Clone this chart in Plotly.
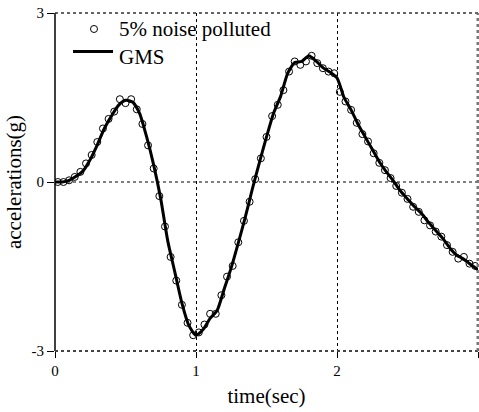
import plotly.graph_objects as go

# noisy data (5% noise polluted)
noise_t = [0.02, 0.06, 0.10, 0.14, 0.18, 0.22, 0.26, 0.30, 0.34, 0.38, 0.42, 0.46, 0.50, 0.54, 0.58,
           0.62, 0.66, 0.70, 0.74, 0.78, 0.82, 0.86, 0.90, 0.94, 0.98, 1.02, 1.06, 1.10, 1.14, 1.18,
           1.22, 1.26, 1.30, 1.34, 1.38, 1.42, 1.46, 1.50, 1.54, 1.58, 1.62, 1.66, 1.70, 1.74, 1.78,
           1.82, 1.86, 1.90, 1.94, 1.98, 2.02, 2.06, 2.10, 2.14, 2.18, 2.22, 2.26, 2.30, 2.34, 2.38,
           2.42, 2.46, 2.50, 2.54, 2.58, 2.62, 2.66, 2.70, 2.74, 2.78, 2.82, 2.86, 2.90, 2.94, 2.98]
noise_a = [0.00, 0.00, 0.03, 0.09, 0.18, 0.33, 0.48, 0.71, 0.95, 1.12, 1.25, 1.47, 1.40, 1.47, 1.29,
           1.03, 0.65, 0.24, -0.25, -0.79, -1.33, -1.75, -2.18, -2.50, -2.72, -2.67, -2.53, -2.34, -2.34, -2.01,
           -1.68, -1.49, -1.07, -0.69, -0.35, 0.05, 0.42, 0.80, 1.17, 1.37, 1.63, 1.96, 2.14, 2.08, 2.14,
           2.24, 2.11, 2.02, 1.96, 1.93, 1.60, 1.43, 1.28, 1.05, 0.85, 0.72, 0.51, 0.34, 0.21, 0.07,
           -0.07, -0.19, -0.30, -0.44, -0.53, -0.68, -0.77, -0.88, -0.97, -1.12, -1.24, -1.36, -1.33, -1.45, -1.49]

# GMS curve
gms_t = [0.00, 0.05, 0.10, 0.15, 0.20, 0.25, 0.30, 0.35, 0.40, 0.45, 0.50, 0.55, 0.60, 0.65, 0.70,
         0.75, 0.80, 0.85, 0.90, 0.95, 1.00, 1.05, 1.10, 1.15, 1.20, 1.25, 1.30, 1.35, 1.40, 1.45,
         1.50, 1.55, 1.60, 1.65, 1.70, 1.75, 1.80, 1.85, 1.90, 1.95, 2.00, 2.05, 2.10, 2.15, 2.20,
         2.25, 2.30, 2.35, 2.40, 2.45, 2.50, 2.55, 2.60, 2.65, 2.70, 2.75, 2.80, 2.85, 2.90, 2.95, 3.00]
gms_a = [0.00, 0.00, 0.03, 0.10, 0.20, 0.40, 0.66, 0.95, 1.17, 1.36, 1.45, 1.42, 1.22, 0.80, 0.30,
         -0.30, -1.05, -1.60, -2.15, -2.55, -2.72, -2.62, -2.42, -2.28, -1.90, -1.52, -1.08, -0.62, -0.12, 0.35,
         0.80, 1.22, 1.52, 1.93, 2.12, 2.14, 2.24, 2.15, 2.03, 1.95, 1.85, 1.50, 1.28, 1.02, 0.80,
         0.58, 0.36, 0.18, 0.02, -0.16, -0.30, -0.44, -0.56, -0.72, -0.86, -1.00, -1.17, -1.30, -1.37, -1.47, -1.56]

x_ticks = [0, 1, 2, 3]
x_tick_text = ["0", "1", "2", "3"]
y_ticks = [-3, 0, 3]
y_tick_text = ["-3", "0", "3"]
legend_labels = ["5% noise polluted", "GMS"]

FONT = "Liberation Serif, Times New Roman, serif"

fig = go.Figure()
fig.add_trace(go.Scatter(
    x=noise_t, y=noise_a, mode="markers", name=legend_labels[0], showlegend=False,
    marker=dict(symbol="circle-open", size=7, color="black", line=dict(width=1, color="black")),
))
fig.add_trace(go.Scatter(
    x=gms_t, y=gms_a, mode="lines", name=legend_labels[1], showlegend=False,
    line=dict(color="black", width=3, shape="spline", smoothing=0.6),
))

fig.update_layout(
    width=479, height=412,
    margin=dict(l=55, r=1, t=13, b=61),
    paper_bgcolor="white", plot_bgcolor="white",
    font=dict(family=FONT, color="black", size=15),
    showlegend=False,
    xaxis=dict(range=[0, 3], tickvals=x_ticks, ticktext=x_tick_text, ticks="outside", ticklen=6,
               tickcolor="black", showline=False, showgrid=True, gridcolor="black", griddash="dot",
               gridwidth=1, zeroline=False,
               title=dict(text="time(sec)", font=dict(family=FONT, size=21), standoff=10),
               tickfont=dict(family=FONT, size=15)),
    yaxis=dict(range=[-3, 3], tickvals=y_ticks, ticktext=y_tick_text, ticks="outside", ticklen=7,
               tickcolor="black", showline=False, showgrid=False, zeroline=False,
               title=dict(text="accelerations(g)", font=dict(family=FONT, size=21), standoff=4),
               tickfont=dict(family=FONT, size=15)),
)
# dotted horizontal grid at y=0
fig.add_shape(type="line", xref="paper", yref="y", x0=0, x1=1, y0=0, y1=0,
              line=dict(color="black", width=1, dash="dot"))
# frame
fig.add_shape(type="line", xref="paper", yref="paper", x0=0, x1=0, y0=0, y1=1,
              line=dict(color="black", width=1.5), layer="above")
fig.add_shape(type="line", xref="paper", yref="paper", x0=0, x1=1, y0=0, y1=0,
              line=dict(color="#444", width=2, dash="dot"), layer="above")
fig.add_shape(type="line", xref="paper", yref="paper", x0=0, x1=1, y0=1, y1=1,
              line=dict(color="#333", width=1.5, dash="dot"), layer="above")
fig.add_shape(type="line", xref="paper", yref="paper", x0=1, x1=1, y0=0, y1=1,
              line=dict(color="#777", width=3, dash="dot"), layer="above")

# manual legend (paper coordinates)
fig.add_shape(type="circle", xref="paper", yref="paper",
              x0=0.0922 - 0.0083, x1=0.0922 + 0.0083, y0=0.9527 - 0.0104, y1=0.9527 + 0.0104,
              line=dict(color="black", width=1), fillcolor="white")
fig.add_shape(type="line", xref="paper", yref="paper", x0=0.0426, x1=0.1372, y0=0.886, y1=0.886,
              line=dict(color="black", width=3))
fig.add_annotation(xref="paper", yref="paper", x=0.1466, y=0.9127, xanchor="left", yanchor="bottom",
                   text=legend_labels[0], showarrow=False, font=dict(family=FONT, size=21))
fig.add_annotation(xref="paper", yref="paper", x=0.1466, y=0.9127, xanchor="left", yanchor="top",
                   text=legend_labels[1], showarrow=False, font=dict(family=FONT, size=21))

fig.write_html("out.html")
